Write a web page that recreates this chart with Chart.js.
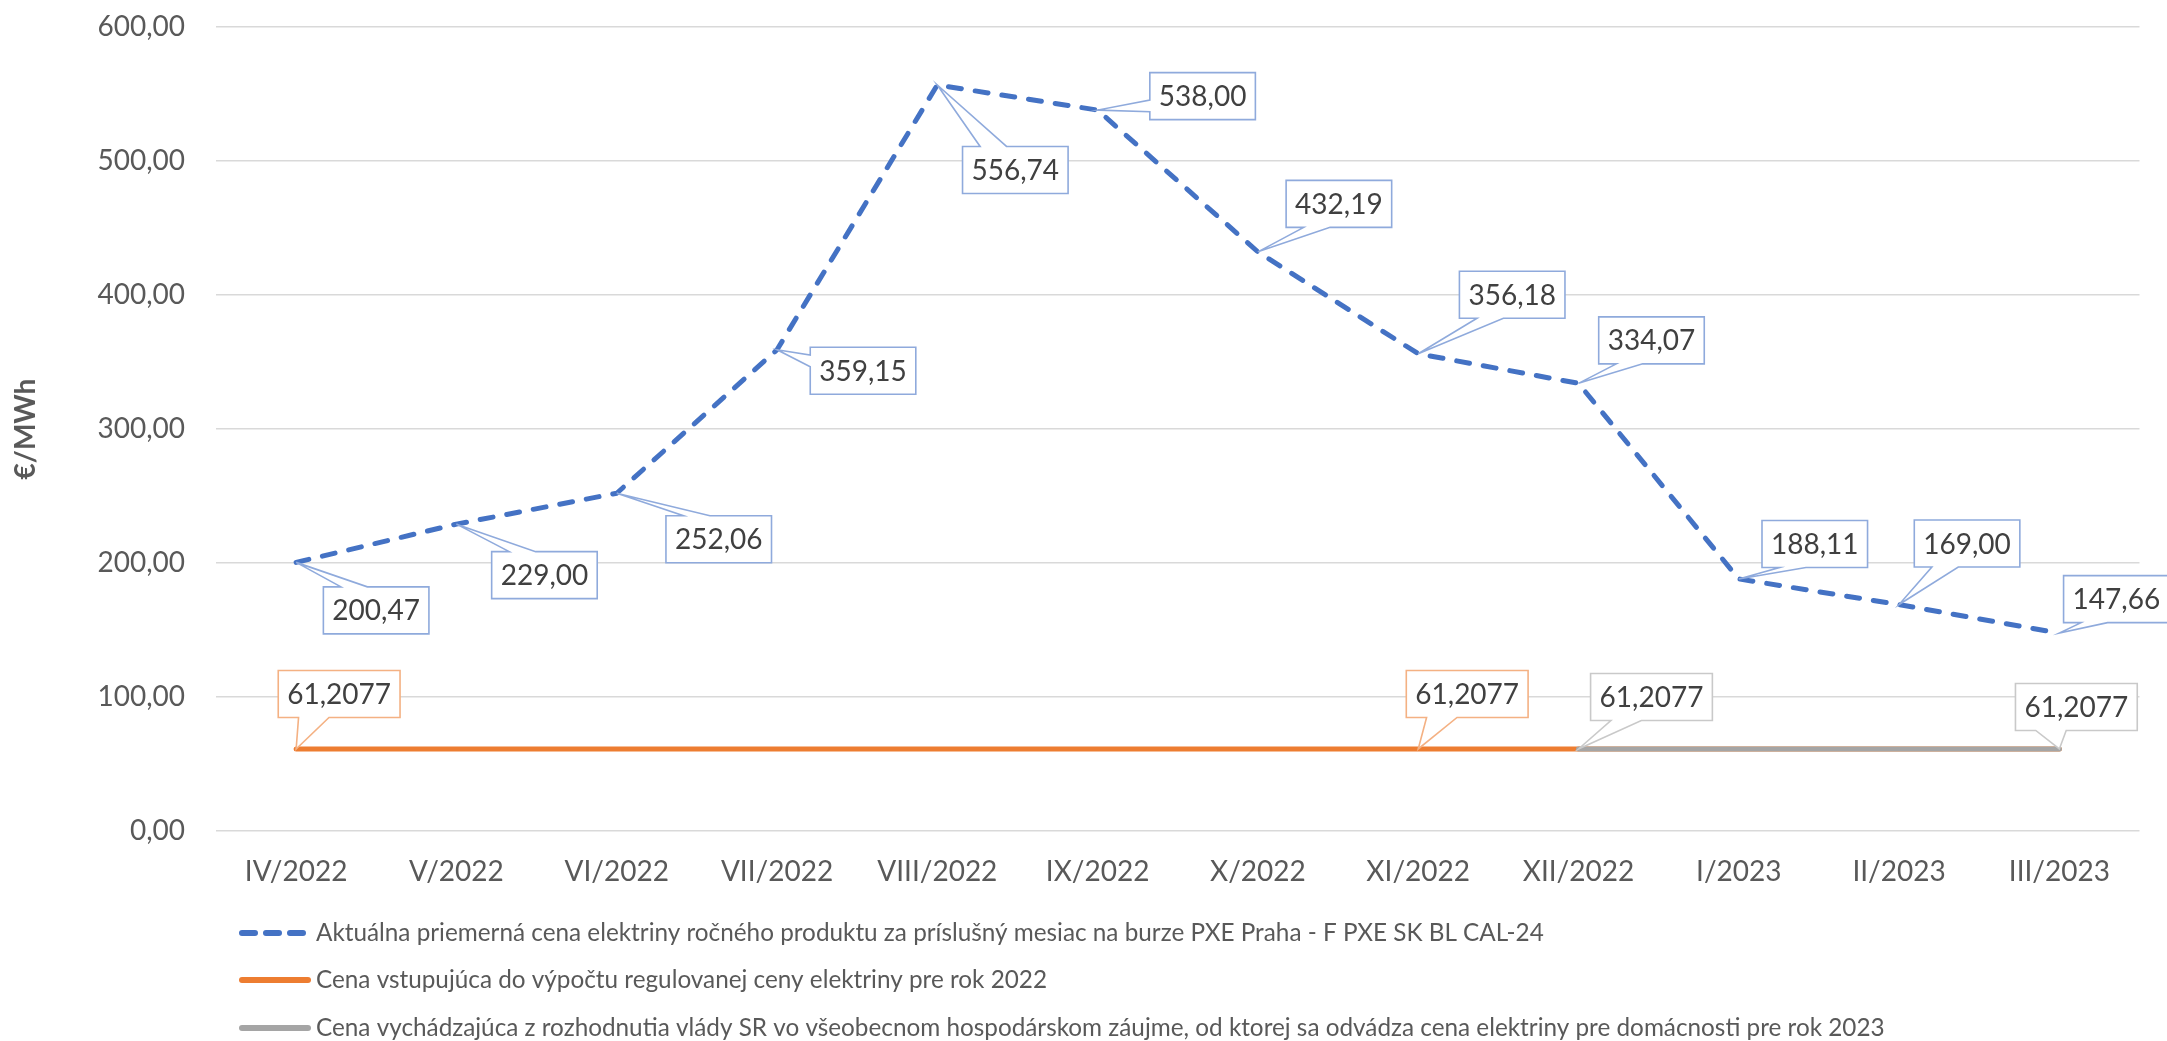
<!DOCTYPE html>
<html lang="sk">
<head>
<meta charset="UTF-8">
<title>Cena elektriny</title>
<script src="https://cdn.jsdelivr.net/npm/chart.js@4"></script>
<style>
  html, body { margin: 0; padding: 0; background: #fff; }
  #wrap { width: 2167px; height: 1041px; }
</style>
</head>
<body>
<div id="wrap"><canvas id="chart" width="2167" height="1041"></canvas></div>
<script>
const months = ['IV/2022', 'V/2022', 'VI/2022', 'VII/2022', 'VIII/2022', 'IX/2022', 'X/2022', 'XI/2022', 'XII/2022', 'I/2023', 'II/2023', 'III/2023']

const pxePrices = [200.47, 229.00, 252.06, 359.15, 556.74, 538.00, 432.19, 356.18, 334.07, 188.11, 169.00, 147.66]
const regulated2022 = [61.2077, 61.2077, 61.2077, 61.2077, 61.2077, 61.2077, 61.2077, 61.2077, 61.2077, 61.2077, 61.2077, 61.2077]
const household2023 = [null, null, null, null, null, null, null, null, 61.2077, 61.2077, 61.2077, 61.2077]

const seriesNames = [
  'Aktuálna priemerná cena elektriny ročného produktu za príslušný mesiac na burze PXE Praha - F PXE SK BL CAL-24',
  'Cena vstupujúca do výpočtu regulovanej ceny elektriny pre rok 2022',
  'Cena vychádzajúca z rozhodnutia vlády SR vo všeobecnom hospodárskom záujme, od ktorej sa odvádza cena elektriny pre domácnosti pre rok 2023'
]

const yTicks = [0, 100, 200, 300, 400, 500, 600]

// where each callout box sits, relative to its point (px)
const blueCallouts = { 0: [80, 48], 1: [88, 51], 2: [102, 46], 3: [86, 21], 4: [78, 85], 5: [105, -14], 6: [81, -48], 7: [94, -59], 8: [73, -43], 9: [76, -35], 10: [68, -61], 11: [57, -34] }
const orangeCallouts = { 0: [43, -55], 7: [49, -55] }
const grayCallouts = { 8: [73, -52], 11: [17, -42] }

const FONT = 'Lato, "Open Sans", sans-serif'
const TEXT = '#595959'

const fmt = (v, d) => v.toFixed(d).replace('.', ',')

const calloutPlugin = {
  id: 'callouts',
  afterDatasetsDraw(chart, args, opts) {
    const ctx = chart.ctx
    ctx.save()
    ctx.font = '28px ' + FONT
    ctx.textAlign = 'center'
    ctx.textBaseline = 'middle'
    for (const c of opts.items) {
      const meta = chart.getDatasetMeta(c.dataset)
      const values = chart.data.datasets[c.dataset].data
      for (const key of Object.keys(c.offsets)) {
        const i = +key
        const pt = meta.data[i]
        const txt = fmt(values[i], c.decimals)
        const w = ctx.measureText(txt).width + 18
        const h = 47
        const cx = pt.x + c.offsets[key][0]
        const cy = pt.y + c.offsets[key][1]
        const l = cx - w / 2, r = cx + w / 2, t = cy - h / 2, b = cy + h / 2
        const dx = pt.x - cx, dy = pt.y - cy
        const dq = dx * h / w
        const vertical = Math.abs(dy) > Math.abs(dq)
        const x1 = l + w * (dx > 0 ? 7 : 2) / 12, x2 = l + w * (dx > 0 ? 10 : 5) / 12
        const y1 = t + h * (dy > 0 ? 7 : 2) / 12, y2 = t + h * (dy > 0 ? 10 : 5) / 12
        ctx.beginPath()
        ctx.moveTo(l, t)
        if (vertical && dy < 0) { ctx.lineTo(x1, t); ctx.lineTo(pt.x, pt.y); ctx.lineTo(x2, t) }
        ctx.lineTo(r, t)
        if (!vertical && dx > 0) { ctx.lineTo(r, y1); ctx.lineTo(pt.x, pt.y); ctx.lineTo(r, y2) }
        ctx.lineTo(r, b)
        if (vertical && dy > 0) { ctx.lineTo(x2, b); ctx.lineTo(pt.x, pt.y); ctx.lineTo(x1, b) }
        ctx.lineTo(l, b)
        if (!vertical && dx < 0) { ctx.lineTo(l, y2); ctx.lineTo(pt.x, pt.y); ctx.lineTo(l, y1) }
        ctx.closePath()
        ctx.fillStyle = '#ffffff'
        ctx.fill()
        ctx.lineWidth = 1.6
        ctx.strokeStyle = c.border
        ctx.stroke()
        ctx.fillStyle = '#404040'
        ctx.fillText(txt, cx, cy + 1)
      }
    }
    ctx.restore()
  }
}

const legendPlugin = {
  id: 'sideLegend',
  afterDraw(chart, args, opts) {
    const ctx = chart.ctx
    ctx.save()
    ctx.font = opts.fontSize + 'px ' + FONT
    ctx.textBaseline = 'middle'
    ctx.textAlign = 'left'
    chart.data.datasets.forEach((ds, i) => {
      const y = opts.rows[i]
      const dashed = !!ds.borderDash
      ctx.beginPath()
      ctx.lineWidth = 6
      ctx.strokeStyle = ds.borderColor
      ctx.lineCap = 'round'
      ctx.setLineDash(dashed ? [13, 11] : [])
      ctx.moveTo(opts.x0, y)
      ctx.lineTo(dashed ? opts.x0 + 61 : opts.x0 + 66, y)
      ctx.stroke()
      ctx.setLineDash([])
      ctx.fillStyle = TEXT
      ctx.fillText(ds.label, opts.textX, y)
    })
    ctx.restore()
  }
}

new Chart(document.getElementById('chart'), {
  type: 'line',
  data: {
    labels: months,
    datasets: [
      {
        label: seriesNames[0], data: pxePrices, order: 0,
        borderColor: '#4472C4', borderWidth: 5, borderDash: [13, 14],
        borderCapStyle: 'round', borderJoinStyle: 'round',
        pointRadius: 0, pointHoverRadius: 0, tension: 0
      },
      {
        label: seriesNames[1], data: regulated2022, order: 2,
        borderColor: '#ED7D31', borderWidth: 5,
        borderCapStyle: 'round', borderJoinStyle: 'round',
        pointRadius: 0, pointHoverRadius: 0, tension: 0
      },
      {
        label: seriesNames[2], data: household2023, order: 1,
        borderColor: '#A5A5A5', borderWidth: 5,
        borderCapStyle: 'round', borderJoinStyle: 'round',
        pointRadius: 0, pointHoverRadius: 0, tension: 0
      }
    ]
  },
  options: {
    responsive: false,
    animation: false,
    events: [],
    layout: { padding: { left: 0, right: 27.5, top: 27, bottom: 130 } },
    plugins: {
      legend: { display: false },
      tooltip: { enabled: false },
      callouts: {
        items: [
          { dataset: 0, decimals: 2, border: '#8FAADC', offsets: blueCallouts },
          { dataset: 1, decimals: 4, border: '#F4B183', offsets: orangeCallouts },
          { dataset: 2, decimals: 4, border: '#C9C9C9', offsets: grayCallouts }
        ]
      },
      sideLegend: { fontSize: 24.3, x0: 242, textX: 316, rows: [933, 980, 1028] }
    },
    scales: {
      x: {
        offset: true,
        grid: { display: false, drawTicks: false },
        border: { display: false },
        ticks: { color: TEXT, font: { family: FONT, size: 28 }, padding: 24, maxRotation: 0, autoSkip: false },
        afterFit: s => { s.height = 80 }
      },
      y: {
        min: yTicks[0],
        max: yTicks[yTicks.length - 1],
        afterBuildTicks: s => { s.ticks = yTicks.map(v => ({ value: v })) },
        grid: { color: '#D9D9D9', lineWidth: 1.5, drawTicks: false },
        border: { display: false },
        ticks: { color: TEXT, font: { family: FONT, size: 28 }, padding: 31, callback: v => fmt(v, 2) },
        title: { display: true, text: '€/MWh', color: TEXT, font: { family: FONT, size: 28, weight: 'bold' }, padding: { top: 9, bottom: 0 } },
        afterFit: s => { s.width = 216; s.paddingTop = 0; s.paddingBottom = 0 }
      }
    }
  },
  plugins: [calloutPlugin, legendPlugin]
})
</script>
</body>
</html>
